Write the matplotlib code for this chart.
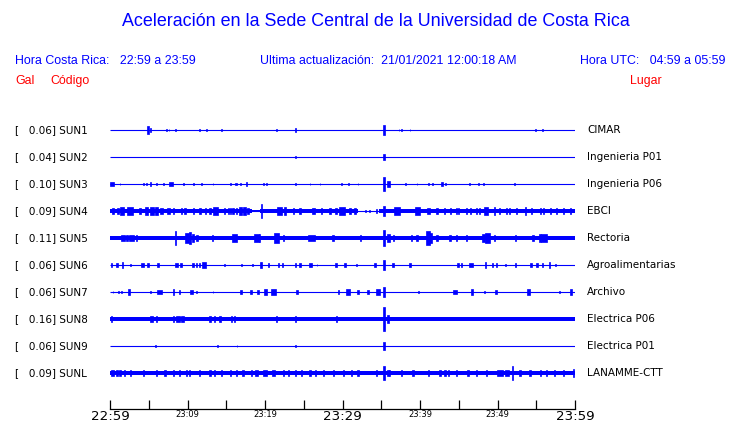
import matplotlib

matplotlib.use("Agg")

import matplotlib.pyplot as plt

W, H = 740, 423
BLUE = "#0000ff"
RED = "#ff0000"
GAIN = 93.0  # px per gal on screen

# one hour window, minutes after 22:59
T0, T1 = 0, 60
tick_minutes = list(range(0, 61, 5))
tick_labels = ["22:59", "", "23:09", "", "23:19", "", "23:29",
               "", "23:39", "", "23:49", "", "23:59"]
major_ticks = ["22:59", "23:29", "23:59"]

codes = ["SUN1", "SUN2", "SUN3", "SUN4", "SUN5",
         "SUN6", "SUN7", "SUN8", "SUN9", "SUNL"]
peaks = [0.06, 0.04, 0.10, 0.09, 0.11, 0.06, 0.06, 0.16, 0.06, 0.09]
places = ["CIMAR", "Ingenieria P01", "Ingenieria P06", "EBCI", "Rectoria",
          "Agroalimentarias", "Archivo", "Electrica P06", "Electrica P01",
          "LANAMME-CTT"]

# background noise level (start, end, half amplitude in gal), per station
SUN1_NOISE = []
SUN2_NOISE = []
SUN3_NOISE = []
SUN4_NOISE = [(0, 18.3, 0.018), (18.3, 19.4, 0.011), (19.4, 32.0, 0.018), (34.7, 60, 0.018)]
SUN5_NOISE = [(0, 33.5, 0.018), (33.5, 60, 0.020)]
SUN6_NOISE = []
SUN7_NOISE = []
SUN8_NOISE = [(0, 44.7, 0.021), (44.7, 60, 0.018)]
SUN9_NOISE = []
SUNL_NOISE = [(0, 60, 0.018)]

# bursts (minute, duration in minutes, half amplitude in gal)
SUN1_EV = [(4.9, 0.3, 0.04), (5.2, 0.2, 0.02), (7.3, 0.1, 0.015), (7.6, 0.1, 0.015),
           (8.5, 0.1, 0.015), (11.5, 0.1, 0.01), (12.5, 0.1, 0.012), (14.4, 0.1, 0.015),
           (21.5, 0.1, 0.01), (23.9, 0.1, 0.02), (35.35, 0.3, 0.054), (37.3, 0.1, 0.015),
           (37.6, 0.1, 0.015), (38.7, 0.1, 0.015), (54.9, 0.1, 0.01), (55.8, 0.1, 0.015)]
SUN2_EV = [(23.9, 0.1, 0.01), (35.35, 0.3, 0.034)]
SUN3_EV = [(0.3, 0.5, 0.02), (1.3, 0.1, 0.01), (4.3, 0.1, 0.015), (4.7, 0.1, 0.015),
           (5.2, 0.2, 0.02), (6.0, 0.1, 0.015), (6.9, 0.1, 0.01), (7.9, 0.5, 0.02),
           (9.5, 0.1, 0.01), (10.75, 0.1, 0.015), (11.8, 0.1, 0.015), (13.3, 0.1, 0.01),
           (15.5, 0.1, 0.015), (16.3, 0.3, 0.015), (16.8, 0.1, 0.015), (17.6, 0.2, 0.02),
           (19.8, 0.1, 0.01), (20.2, 0.1, 0.01), (23.9, 0.1, 0.015), (25.8, 0.1, 0.01),
           (27.1, 0.1, 0.01), (29.9, 0.1, 0.01), (30.75, 0.1, 0.01), (32.0, 0.1, 0.01),
           (35.35, 0.25, 0.08), (35.9, 0.4, 0.03), (38.1, 0.1, 0.01), (39.6, 0.1, 0.01),
           (41.1, 0.1, 0.01), (41.6, 0.1, 0.01), (42.8, 0.3, 0.02), (43.3, 0.2, 0.015),
           (46.4, 0.1, 0.01), (47.5, 0.1, 0.01), (48.2, 0.1, 0.01), (52.2, 0.1, 0.01)]
SUN4_EV = [(0.4, 0.3, 0.034), (1.0, 0.2, 0.03), (1.6, 0.5, 0.038), (2.6, 0.8, 0.038),
           (3.9, 0.2, 0.034), (4.7, 0.4, 0.042), (5.4, 0.6, 0.046), (6.0, 0.3, 0.042),
           (6.6, 0.4, 0.034), (7.5, 0.4, 0.034), (8.2, 0.2, 0.03), (9.2, 0.2, 0.034),
           (9.7, 0.2, 0.034), (10.8, 0.2, 0.03), (11.6, 0.2, 0.034), (12.3, 0.2, 0.03),
           (12.9, 0.2, 0.034), (13.6, 0.6, 0.038), (14.8, 0.2, 0.03), (15.3, 0.2, 0.034),
           (15.5, 0.1, 0.034), (15.9, 0.2, 0.034), (16.3, 0.2, 0.034), (16.8, 0.4, 0.038),
           (17.4, 0.4, 0.038), (17.8, 0.2, 0.034), (19.6, 0.15, 0.079), (21.9, 0.6, 0.045),
           (22.6, 0.3, 0.038), (23.7, 0.2, 0.034), (24.5, 0.2, 0.03), (26.2, 0.4, 0.034),
           (27.3, 0.2, 0.034), (28.4, 0.2, 0.03), (29.2, 0.3, 0.034), (29.9, 0.8, 0.038),
           (31.0, 0.2, 0.03), (31.6, 0.2, 0.03), (33.0, 0.1, 0.015), (33.5, 0.1, 0.015),
           (34.4, 0.15, 0.025), (35.35, 0.2, 0.054), (37.0, 0.8, 0.038), (39.7, 0.6, 0.038),
           (41.1, 0.4, 0.034), (42.2, 0.15, 0.03), (43.2, 0.15, 0.03), (43.9, 0.15, 0.03),
           (44.7, 0.15, 0.034), (45.0, 0.15, 0.03), (46.0, 0.15, 0.03), (46.5, 0.15, 0.03),
           (47.3, 0.15, 0.03), (47.7, 0.15, 0.03), (48.5, 0.5, 0.038), (49.6, 0.15, 0.046),
           (50.3, 0.15, 0.03), (51.2, 0.15, 0.03), (51.6, 0.15, 0.03), (52.5, 0.15, 0.03),
           (53.6, 0.2, 0.038), (54.4, 0.15, 0.03), (55.5, 0.15, 0.03), (55.9, 0.15, 0.03),
           (56.8, 0.15, 0.03), (57.6, 0.15, 0.03), (58.5, 0.15, 0.03), (59.4, 0.15, 0.03)]
SUN5_EV = [(1.7, 0.5, 0.03), (2.2, 0.2, 0.03), (2.8, 0.6, 0.034), (3.4, 0.2, 0.03),
           (8.5, 0.15, 0.072), (9.9, 0.5, 0.055), (10.3, 0.3, 0.065), (10.7, 0.2, 0.045),
           (11.2, 0.2, 0.034), (13.2, 0.15, 0.03), (16.1, 0.6, 0.038), (18.9, 0.6, 0.045),
           (19.3, 0.2, 0.04), (21.5, 0.6, 0.05), (22.4, 0.2, 0.034), (26.0, 0.8, 0.034),
           (28.8, 0.2, 0.03), (32.3, 0.2, 0.03), (35.35, 0.2, 0.09), (35.9, 0.4, 0.04),
           (36.6, 0.2, 0.03), (38.9, 0.2, 0.03), (39.6, 0.2, 0.03), (41.0, 0.5, 0.075),
           (41.4, 0.4, 0.055), (42.2, 0.2, 0.034), (43.9, 0.2, 0.03), (44.7, 0.2, 0.03),
           (46.0, 0.2, 0.03), (48.2, 0.3, 0.045), (48.7, 0.6, 0.054), (49.6, 0.2, 0.034),
           (52.3, 0.2, 0.03), (54.6, 0.2, 0.03), (55.5, 0.3, 0.04), (56.0, 0.8, 0.042)]
SUN6_EV = [(0.2, 0.2, 0.02), (0.9, 0.2, 0.02), (1.6, 0.15, 0.03), (2.6, 0.1, 0.015),
           (4.2, 0.3, 0.02), (4.9, 0.2, 0.02), (6.2, 0.3, 0.025), (8.6, 0.4, 0.02),
           (9.2, 0.3, 0.02), (10.7, 0.2, 0.02), (11.2, 0.15, 0.02), (11.5, 0.15, 0.02),
           (12.1, 0.5, 0.03), (14.8, 0.1, 0.012), (17.0, 0.1, 0.012), (18.4, 0.1, 0.015),
           (19.5, 0.3, 0.035), (20.4, 0.15, 0.02), (21.7, 0.15, 0.02), (22.3, 0.15, 0.02),
           (23.9, 0.15, 0.02), (24.5, 0.2, 0.02), (25.9, 0.4, 0.025), (26.7, 0.1, 0.015),
           (29.2, 0.3, 0.02), (30.3, 0.2, 0.02), (31.8, 0.1, 0.015), (34.2, 0.2, 0.02),
           (35.35, 0.2, 0.057), (36.5, 0.2, 0.02), (38.7, 0.2, 0.02), (44.9, 0.15, 0.02),
           (45.4, 0.15, 0.02), (46.6, 0.5, 0.025), (48.5, 0.15, 0.03), (49.4, 0.15, 0.02),
           (49.9, 0.15, 0.02), (51.0, 0.1, 0.015), (52.3, 0.2, 0.02), (54.3, 0.2, 0.02),
           (55.1, 0.2, 0.02), (55.8, 0.2, 0.02), (56.7, 0.15, 0.03), (57.5, 0.1, 0.012)]
SUN7_EV = [(0.4, 0.1, 0.015), (1.1, 0.1, 0.015), (1.5, 0.1, 0.015), (2.5, 0.25, 0.036),
           (5.2, 0.1, 0.015), (6.4, 0.6, 0.025), (8.2, 0.2, 0.03), (9.0, 0.15, 0.02),
           (10.5, 0.4, 0.025), (11.2, 0.1, 0.015), (13.3, 0.1, 0.015), (16.9, 0.2, 0.02),
           (18.2, 0.2, 0.02), (19.1, 0.2, 0.025), (20.1, 0.4, 0.036), (21.1, 0.7, 0.03),
           (24.1, 0.3, 0.025), (29.5, 0.2, 0.02), (30.7, 0.6, 0.036), (32.0, 0.2, 0.025),
           (33.3, 0.15, 0.02), (34.6, 0.6, 0.03), (35.35, 0.2, 0.054), (39.8, 0.1, 0.015),
           (44.5, 0.5, 0.025), (46.7, 0.3, 0.03), (48.3, 0.1, 0.015), (49.8, 0.3, 0.025),
           (54.0, 0.3, 0.03), (58.0, 0.1, 0.015), (59.5, 0.2, 0.036)]
SUN8_EV = [(0.2, 0.1, 0.03), (5.4, 0.4, 0.036), (6.0, 0.2, 0.03), (8.2, 0.2, 0.03),
           (8.8, 0.5, 0.03), (9.4, 0.4, 0.03), (12.9, 0.2, 0.03), (13.5, 0.2, 0.03),
           (14.2, 0.2, 0.03), (15.7, 0.15, 0.03), (16.1, 0.15, 0.03), (21.5, 0.1, 0.03),
           (23.9, 0.1, 0.03), (29.2, 0.1, 0.028), (35.35, 0.2, 0.125), (35.9, 0.3, 0.04)]
SUN9_EV = [(5.9, 0.1, 0.01), (13.9, 0.1, 0.012), (16.4, 0.1, 0.012), (23.9, 0.1, 0.01),
           (35.35, 0.3, 0.04)]
SUNL_EV = [(0.3, 0.4, 0.03), (0.9, 0.3, 0.03), (1.3, 0.2, 0.028), (1.9, 0.15, 0.028),
           (2.6, 0.15, 0.028), (4.3, 0.15, 0.028), (6.0, 0.15, 0.03), (7.1, 0.15, 0.028),
           (8.2, 0.15, 0.03), (9.0, 0.15, 0.028), (9.9, 0.15, 0.028), (10.3, 0.15, 0.028),
           (11.6, 0.15, 0.028), (12.9, 0.15, 0.028), (13.5, 0.15, 0.03), (14.4, 0.15, 0.028),
           (15.5, 0.15, 0.028), (16.3, 0.15, 0.028), (17.2, 0.3, 0.03), (18.3, 0.15, 0.028),
           (18.9, 0.4, 0.03), (20.0, 0.4, 0.03), (21.1, 0.4, 0.03), (22.4, 0.15, 0.028),
           (23.0, 0.15, 0.028), (23.9, 0.15, 0.028), (24.7, 0.15, 0.028), (25.8, 0.15, 0.028),
           (26.5, 0.15, 0.028), (27.5, 0.15, 0.028), (28.8, 0.15, 0.028), (30.1, 0.15, 0.028),
           (31.2, 0.15, 0.028), (32.0, 0.15, 0.028), (34.4, 0.15, 0.028), (35.35, 0.15, 0.072),
           (35.9, 0.2, 0.03), (36.1, 0.15, 0.028), (37.6, 0.15, 0.028), (39.1, 0.15, 0.028),
           (41.1, 0.15, 0.03), (42.6, 0.2, 0.028), (43.2, 0.2, 0.028), (43.7, 0.2, 0.028),
           (44.7, 0.15, 0.028), (46.2, 0.15, 0.028), (47.3, 0.15, 0.028), (48.6, 0.15, 0.028),
           (50.3, 0.8, 0.03), (51.2, 0.5, 0.03), (51.9, 0.15, 0.077), (52.9, 0.15, 0.028),
           (54.2, 0.15, 0.028), (55.5, 0.15, 0.028), (56.3, 0.15, 0.028), (57.4, 0.15, 0.028),
           (58.5, 0.15, 0.028), (59.8, 0.15, 0.04)]

noise = [SUN1_NOISE, SUN2_NOISE, SUN3_NOISE, SUN4_NOISE, SUN5_NOISE,
         SUN6_NOISE, SUN7_NOISE, SUN8_NOISE, SUN9_NOISE, SUNL_NOISE]
events = [SUN1_EV, SUN2_EV, SUN3_EV, SUN4_EV, SUN5_EV,
          SUN6_EV, SUN7_EV, SUN8_EV, SUN9_EV, SUNL_EV]


def fx(px):
    return px / W


def fy(py):
    return 1 - py / H


fig = plt.figure(figsize=(W / 100, H / 100), dpi=100)

head = ["Liberation Sans", "DejaVu Sans"]
fig.text(fx(376), fy(22), "Aceleración en la Sede Central de la Universidad de Costa Rica",
         ha="center", va="center", color=BLUE, fontsize=12.9, family=head)
fig.text(fx(15), fy(61), "Hora Costa Rica:   22:59 a 23:59", va="center",
         color=BLUE, fontsize=8.9, family=head)
fig.text(fx(260), fy(61), "Ultima actualización:  21/01/2021 12:00:18 AM", va="center",
         color=BLUE, fontsize=8.9, family=head)
fig.text(fx(580), fy(61), "Hora UTC:   04:59 a 05:59", va="center",
         color=BLUE, fontsize=8.9, family=head)
fig.text(fx(15), fy(81), "Gal", va="center", color=RED, fontsize=8.9, family=head)
fig.text(fx(50), fy(81), "Código", va="center", color=RED, fontsize=8.9, family=head)
fig.text(fx(630), fy(81), "Lugar", va="center", color=RED, fontsize=8.9, family=head)

# trace panel, y in screen pixels from the top
ax = fig.add_axes([fx(110), fy(409), fx(575) - fx(110), fy(0) - fy(409)])
ax.set_xlim(T0, T1)
ax.set_ylim(409, 0)
ax.patch.set_alpha(0)

for i, code in enumerate(codes):
    y = 130 + 27 * i
    ax.plot([T0, T1], [y, y], color=BLUE, lw=0.8, solid_capstyle="butt")
    for a, b, h in noise[i]:
        ax.fill_between([a, b], y - h * GAIN, y + h * GAIN, color=BLUE, lw=0)
    for t, w, h in events[i]:
        ax.bar(t, 2 * h * GAIN, width=w, bottom=y - h * GAIN, color=BLUE,
               edgecolor=BLUE, linewidth=0.5)
    fig.text(fx(15), fy(y), f"[   {peaks[i]:.2f}] {code}", va="center",
             fontsize=7.5, family="DejaVu Sans")
    fig.text(fx(587), fy(y), places[i], va="center", fontsize=7.5, family="DejaVu Sans")

for side in ["top", "left", "right"]:
    ax.spines[side].set_visible(False)
ax.spines["bottom"].set_linewidth(0.9)
ax.set_yticks([])
ax.set_xticks(tick_minutes)
ax.set_xticklabels(tick_labels, family="DejaVu Sans")
ax.tick_params(axis="x", direction="in", length=6.5, width=0.9, pad=1.0)
for lab in ax.get_xticklabels():
    lab.set_fontsize(9.6 if lab.get_text() in major_ticks else 6.0)

fig.savefig("out.png", dpi=100)
